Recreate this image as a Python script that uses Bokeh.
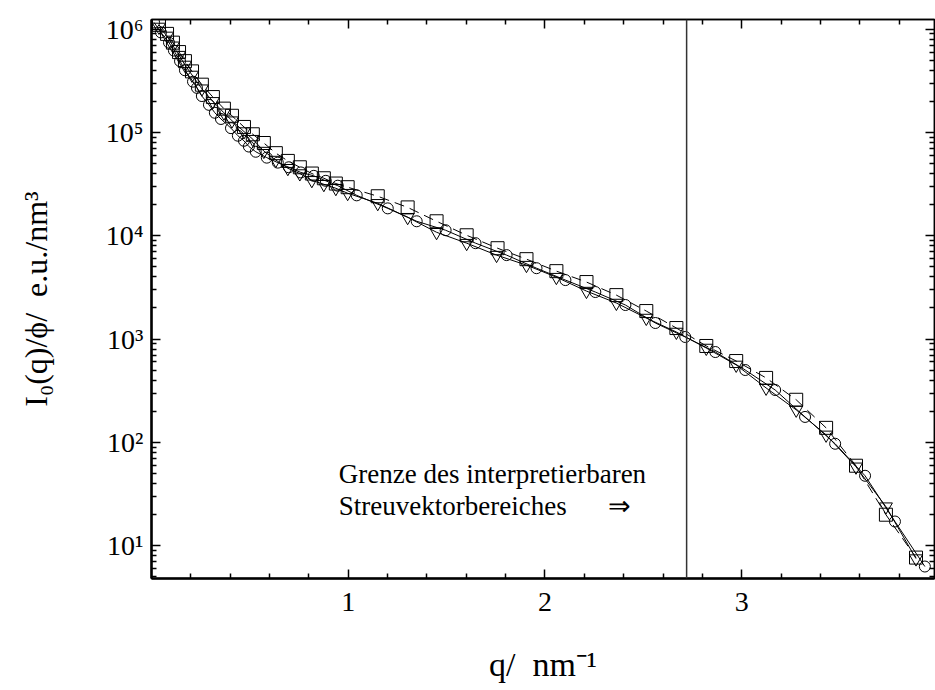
from bokeh.plotting import figure
from bokeh.models import LinearAxis, LogAxis, FixedTicker, Span, Label
from bokeh.embed import file_html
from bokeh.resources import INLINE

# ---------------- data ----------------
q_sq = [0.038, 0.079, 0.109, 0.140, 0.170, 0.206, 0.256, 0.312, 0.368, 0.409,
        0.470, 0.515, 0.571, 0.632, 0.693, 0.754, 0.815, 0.876, 0.937, 0.997,
        1.150, 1.302, 1.449, 1.602, 1.759, 1.906, 2.058, 2.211, 2.363, 2.515,
        2.668, 2.820, 2.972, 3.124, 3.277, 3.429, 3.581, 3.733, 3.886]
I_sq = [1.10e6, 9.0e5, 7.4e5, 6.0e5, 4.9e5, 3.9e5, 2.9e5, 2.2e5, 1.7e5, 1.45e5,
        1.13e5, 9.6e4, 7.9e4, 6.3e4, 5.3e4, 4.6e4, 4.0e4, 3.6e4, 3.2e4, 2.95e4,
        2.41e4, 1.88e4, 1.38e4, 1.01e4, 7570, 5930, 4540, 3560, 2660, 1865,
        1277, 856, 612, 420, 258, 138, 59.3, 19.9, 7.65]

q_tri = [0.038, 0.079, 0.109, 0.140, 0.170, 0.206, 0.256, 0.312, 0.368, 0.409,
         0.470, 0.515, 0.571, 0.632, 0.693, 0.754, 0.815, 0.876, 0.937, 0.997,
         1.150, 1.302, 1.449, 1.602, 1.754, 1.906, 2.058, 2.211, 2.363, 2.515,
         2.668, 2.820, 2.972, 3.124, 3.277, 3.429, 3.581, 3.733, 3.886]
I_tri = [1.05e6, 8.6e5, 6.9e5, 5.6e5, 4.5e5, 3.6e5, 2.65e5, 2.0e5, 1.55e5, 1.3e5,
         1.02e5, 8.6e4, 6.6e4, 5.4e4, 4.5e4, 4.0e4, 3.44e4, 3.15e4, 2.88e4, 2.58e4,
         2.06e4, 1.51e4, 1.08e4, 8470, 6490, 5190, 3970, 2910, 2230, 1596,
         1169, 818, 561, 336, 206, 118, 57.9, 23.8, 7.48]

q_circ = [0.013, 0.048, 0.089, 0.114, 0.145, 0.170, 0.211, 0.231, 0.256, 0.292,
          0.322, 0.353, 0.404, 0.439, 0.470, 0.495, 0.530, 0.586, 0.642, 0.698,
          0.759, 0.825, 0.886, 0.947, 1.043, 1.201, 1.348, 1.495, 1.647, 1.805,
          1.957, 2.104, 2.256, 2.409, 2.561, 2.713, 2.866, 3.018, 3.170, 3.322,
          3.475, 3.627, 3.779, 3.931]
I_circ = [1.16e6, 9.3e5, 7.4e5, 6.2e5, 4.9e5, 4.0e5, 3.1e5, 2.7e5, 2.25e5, 1.85e5,
          1.55e5, 1.35e5, 1.1e5, 9.3e4, 8.3e4, 7.3e4, 6.5e4, 5.7e4, 5.1e4, 4.6e4,
          4.1e4, 3.8e4, 3.4e4, 3.05e4, 2.46e4, 1.84e4, 1.38e4, 1.13e4, 8470, 6490,
          4850, 3720, 2850, 2133, 1429, 1046, 748, 501, 321, 176,
          96.8, 47.4, 17.1, 6.27]

x_major_ticks = [1, 2, 3]
x_minor_ticks = [0.2, 0.4, 0.6, 0.8, 1.2, 1.4, 1.6, 1.8, 2.2, 2.4, 2.6, 2.8,
                 3.2, 3.4, 3.6, 3.8]
y_major_ticks = [10, 100, 1000, 10000, 100000, 1000000]
y_tick_labels = ["10\u00b9", "10\u00b2", "10\u00b3", "10\u2074", "10\u2075", "10\u2076"]
y_minor_ticks = [m * 10 ** d for d in range(0, 6) for m in range(2, 10)]

q_limit = 2.72
note_line1 = "Grenze des interpretierbaren"
note_line2 = "Streuvektorbereiches"
note_arrow = "\u21d2"

FONT = "Liberation Serif"

p = figure(width=935, height=690, x_range=(0, 3.98), y_range=(4.8, 1.24e6),
           y_axis_type="log", output_backend="svg", toolbar_location=None,
           min_border_left=151, min_border_right=1, min_border_top=19,
           min_border_bottom=112, background_fill_color="white",
           border_fill_color="white")
p.xgrid.visible = False
p.ygrid.visible = False
p.outline_line_color = "black"
p.outline_line_width = 1.5

# main axes
xa = p.xaxis[0]
ya = p.yaxis[0]
xa.ticker = FixedTicker(ticks=x_major_ticks, minor_ticks=x_minor_ticks)
ya.ticker = FixedTicker(ticks=y_major_ticks, minor_ticks=y_minor_ticks)
ya.major_label_overrides = {t: l for t, l in zip(y_major_ticks, y_tick_labels)}
for ax in (xa, ya):
    ax.axis_line_width = 2.5
    ax.axis_line_color = "black"
    ax.major_tick_in = 9
    ax.major_tick_out = 0
    ax.minor_tick_in = 5
    ax.minor_tick_out = 0
    ax.major_tick_line_width = 1.5
    ax.minor_tick_line_width = 1.5
    ax.major_label_text_font = FONT
    ax.major_label_text_font_size = "28px"
    ax.major_label_text_color = "black"
    ax.axis_label_text_font = FONT
    ax.axis_label_text_font_style = "normal"
    ax.axis_label_text_color = "black"
xa.axis_label_text_font_size = "34px"
ya.axis_label_text_font_size = "32px"
xa.major_label_standoff = 14
ya.major_label_standoff = 8
xa.axis_label = "q/\u00a0\u00a0nm\u207b\u00b9"
ya.axis_label = "I\u2080(q)/\u03d5/\u00a0\u00a0e.u./nm\u00b3"
xa.axis_label_standoff = 32
ya.axis_label_standoff = 49

# top and right axes (ticks only, no labels)
top = LinearAxis(ticker=FixedTicker(ticks=x_major_ticks, minor_ticks=x_minor_ticks),
                 major_label_text_font_size="10px", major_label_text_color=None)
right = LogAxis(ticker=FixedTicker(ticks=y_major_ticks, minor_ticks=y_minor_ticks),
                major_label_text_font_size="10px", major_label_text_color=None)
for ax in (top, right):
    ax.axis_line_width = 1.5
    ax.major_tick_in = 9
    ax.major_tick_out = 0
    ax.minor_tick_in = 5
    ax.minor_tick_out = 0
    ax.major_tick_line_width = 1.5
    ax.minor_tick_line_width = 1.5
    ax.major_label_standoff = 0
p.add_layout(top, "above")
p.add_layout(right, "right")

# series
p.line(q_circ, I_circ, line_color="black", line_width=1)
p.scatter(q_circ, I_circ, marker="circle", size=11, line_color="black",
          fill_color=None, line_width=1)
p.line(q_tri, I_tri, line_color="black", line_width=1)
p.scatter(q_tri, I_tri, marker="inverted_triangle", size=13, line_color="black",
          fill_color=None, line_width=1)
p.line(q_sq, I_sq, line_color="black", line_width=1, line_dash="10 6")
p.scatter(q_sq, I_sq, marker="square", size=13, line_color="black",
          fill_color=None, line_width=1)

# limit line and note
p.add_layout(Span(location=q_limit, dimension="height", line_color="#333333",
                  line_width=1.5))
p.add_layout(Label(x=0.952, y=49.7, text=note_line1, text_font=FONT,
                   text_font_size="27px", text_baseline="alphabetic",
                   text_color="black"))
p.add_layout(Label(x=0.952, y=24.3, text=note_line2, text_font=FONT,
                   text_font_size="27px", text_baseline="alphabetic",
                   text_color="black"))
p.add_layout(Label(x=2.32, y=24.3, text=note_arrow, text_font=FONT,
                   text_font_size="27px", text_baseline="alphabetic",
                   text_color="black"))

open("out.html", "w").write(file_html(p, INLINE))
